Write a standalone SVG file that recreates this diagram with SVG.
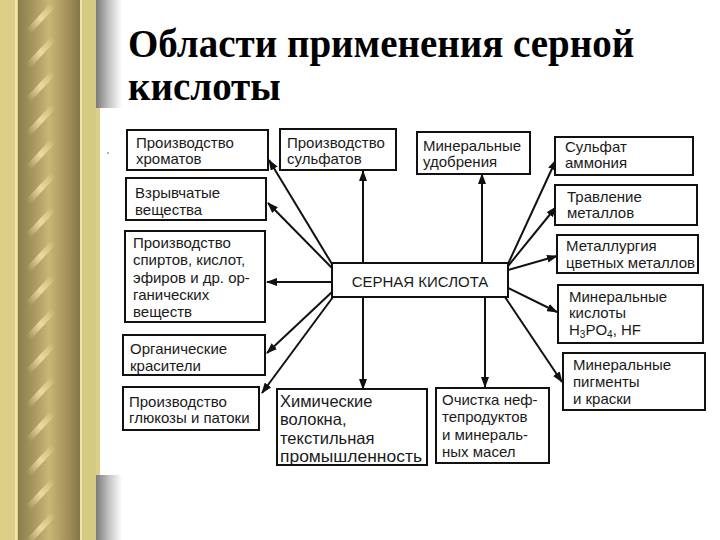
<svg xmlns="http://www.w3.org/2000/svg" width="720" height="540" viewBox="0 0 720 540">
<defs>
<linearGradient id="gray" x1="0" y1="0" x2="1" y2="0">
<stop offset="0" stop-color="#7a7a7a"/>
<stop offset="0.5" stop-color="#c4c4c4"/>
<stop offset="1" stop-color="#ffffff"/>
</linearGradient>
<linearGradient id="rope" x1="0" y1="0" x2="1" y2="0">
<stop offset="0" stop-color="#8c7f4c"/>
<stop offset="0.25" stop-color="#a8975e"/>
<stop offset="0.5" stop-color="#c9b677"/>
<stop offset="0.75" stop-color="#a8975e"/>
<stop offset="1" stop-color="#857846"/>
</linearGradient>
<linearGradient id="hl" x1="0" y1="1" x2="1" y2="0">
<stop offset="0" stop-color="#f3e5a8" stop-opacity="0"/>
<stop offset="0.5" stop-color="#f3e5a8" stop-opacity="0.85"/>
<stop offset="1" stop-color="#f3e5a8" stop-opacity="0"/>
</linearGradient>
<pattern id="twist" x="0" y="0" width="70" height="34" patternUnits="userSpaceOnUse">
<path d="M28,32 L54,4" stroke="url(#hl)" stroke-width="6" stroke-linecap="round"/>
</pattern>
<marker id="arr" markerWidth="11" markerHeight="8" refX="10" refY="4" orient="auto" markerUnits="userSpaceOnUse">
<path d="M0,0 L11,4 L0,8 z" fill="#111"/>
</marker>
<style>
.box{fill:#fff;stroke:#111;stroke-width:2}
.t{font-family:"Liberation Sans",Arial,sans-serif;font-size:15px;fill:#1a1a1a}
.big{font-size:16.5px}
.title{font-family:"Liberation Serif","Times New Roman",serif;font-size:39px;font-weight:bold;fill:#000}
.con line{stroke:#111;stroke-width:2;marker-end:url(#arr)}
</style>
</defs>
<rect width="720" height="540" fill="#fff"/>
<g id="decor">
<rect x="0" y="0" width="100" height="540" fill="#dccf88"/>
<rect x="15" y="0" width="2" height="540" fill="#f0e6ae"/>
<rect x="18" y="0" width="62" height="540" fill="url(#rope)"/>
<rect x="18" y="0" width="62" height="540" fill="url(#twist)"/>
<rect x="80" y="0" width="2" height="540" fill="#efe5ab"/>
<rect x="82" y="0" width="14" height="540" fill="#d6c981"/>
<rect x="96" y="0" width="26" height="108" fill="url(#gray)"/>
<rect x="96" y="475" width="26" height="65" fill="url(#gray)"/>
<circle cx="108" cy="153" r="1" fill="#999"/>
</g>
<g id="title">
<text class="title" x="128" y="57">Области применения серной</text>
<text class="title" x="128" y="100">кислоты</text>
</g>
<g class="con" id="connectors">
<line x1="332" y1="264" x2="269" y2="160"/>
<line x1="332" y1="268" x2="268" y2="203"/>
<line x1="332" y1="282" x2="267" y2="282"/>
<line x1="332" y1="292" x2="267" y2="353"/>
<line x1="333" y1="297" x2="262" y2="393"/>
<line x1="363" y1="263" x2="363" y2="171"/>
<line x1="482" y1="263" x2="482" y2="174"/>
<line x1="508" y1="264" x2="556" y2="160"/>
<line x1="508" y1="266" x2="556" y2="207"/>
<line x1="508" y1="270" x2="557" y2="256"/>
<line x1="508" y1="288" x2="557" y2="312"/>
<line x1="505" y1="297" x2="562" y2="382"/>
<line x1="363" y1="297" x2="363" y2="389"/>
<line x1="485" y1="297" x2="485" y2="387"/>
</g>
<g id="n-center">
<rect class="box" x="332" y="263" width="176" height="34"/>
<text class="t" x="420" y="287" text-anchor="middle">СЕРНАЯ КИСЛОТА</text>
</g>
<g id="n-chromates">
<rect class="box" x="127" y="130" width="141" height="40"/>
<text class="t" x="136" y="148">Производство</text>
<text class="t" x="136" y="164">хроматов</text>
</g>
<g id="n-explosives">
<rect class="box" x="126" y="178" width="140" height="42"/>
<text class="t" x="135" y="198">Взрывчатые</text>
<text class="t" x="135" y="215">вещества</text>
</g>
<g id="n-organic">
<rect class="box" x="125" y="231" width="140" height="91"/>
<text class="t" x="133" y="248">Производство</text>
<text class="t" x="133" y="265">спиртов, кислот,</text>
<text class="t" x="133" y="283">эфиров и др. ор-</text>
<text class="t" x="133" y="300">ганических</text>
<text class="t" x="133" y="317">веществ</text>
</g>
<g id="n-dyes">
<rect class="box" x="123" y="335" width="142" height="40"/>
<text class="t" x="130" y="354">Органические</text>
<text class="t" x="130" y="371">красители</text>
</g>
<g id="n-glucose">
<rect class="box" x="123" y="387" width="136" height="43"/>
<text class="t" x="129" y="407">Производство</text>
<text class="t" x="129" y="423">глюкозы и патоки</text>
</g>
<g id="n-sulfates">
<rect class="box" x="280" y="129" width="116" height="41"/>
<text class="t" x="287" y="148">Производство</text>
<text class="t" x="287" y="164">сульфатов</text>
</g>
<g id="n-fertilizers">
<rect class="box" x="417" y="132" width="113" height="42"/>
<text class="t" x="423" y="151">Минеральные</text>
<text class="t" x="423" y="167">удобрения</text>
</g>
<g id="n-ammonium">
<rect class="box" x="555" y="137" width="138" height="38"/>
<text class="t" x="565" y="152">Сульфат</text>
<text class="t" x="565" y="168">аммония</text>
</g>
<g id="n-etching">
<rect class="box" x="555" y="185" width="142" height="40"/>
<text class="t" x="567" y="202">Травление</text>
<text class="t" x="567" y="218">металлов</text>
</g>
<g id="n-metallurgy">
<rect class="box" x="557" y="235" width="141" height="38"/>
<text class="t" x="566" y="251">Металлургия</text>
<text class="t" x="566" y="268">цветных металлов</text>
</g>
<g id="n-acids">
<rect class="box" x="558" y="285" width="145" height="58"/>
<text class="t" x="569" y="302">Минеральные</text>
<text class="t" x="569" y="318">кислоты</text>
<text class="t" x="569" y="335">H<tspan font-size="10" dy="3">3</tspan><tspan dy="-3">PO</tspan><tspan font-size="10" dy="3">4</tspan><tspan dy="-3">, HF</tspan></text>
</g>
<g id="n-pigments">
<rect class="box" x="563" y="353" width="142" height="57"/>
<text class="t" x="573" y="370">Минеральные</text>
<text class="t" x="573" y="387">пигменты</text>
<text class="t" x="573" y="404">и краски</text>
</g>
<g id="n-fibers">
<rect class="box" x="277" y="389" width="150" height="76"/>
<text class="t big" x="280" y="407">Химические</text>
<text class="t big" x="280" y="425">волокна,</text>
<text class="t big" x="280" y="444">текстильная</text>
<text class="t big" x="280" y="462" textLength="142" lengthAdjust="spacingAndGlyphs">промышленность</text>
</g>
<g id="n-oil">
<rect class="box" x="436" y="388" width="113" height="75"/>
<text class="t" x="442" y="405">Очистка неф-</text>
<text class="t" x="442" y="422">тепродуктов</text>
<text class="t" x="442" y="440">и минераль-</text>
<text class="t" x="442" y="457">ных масел</text>
</g>
</svg>
